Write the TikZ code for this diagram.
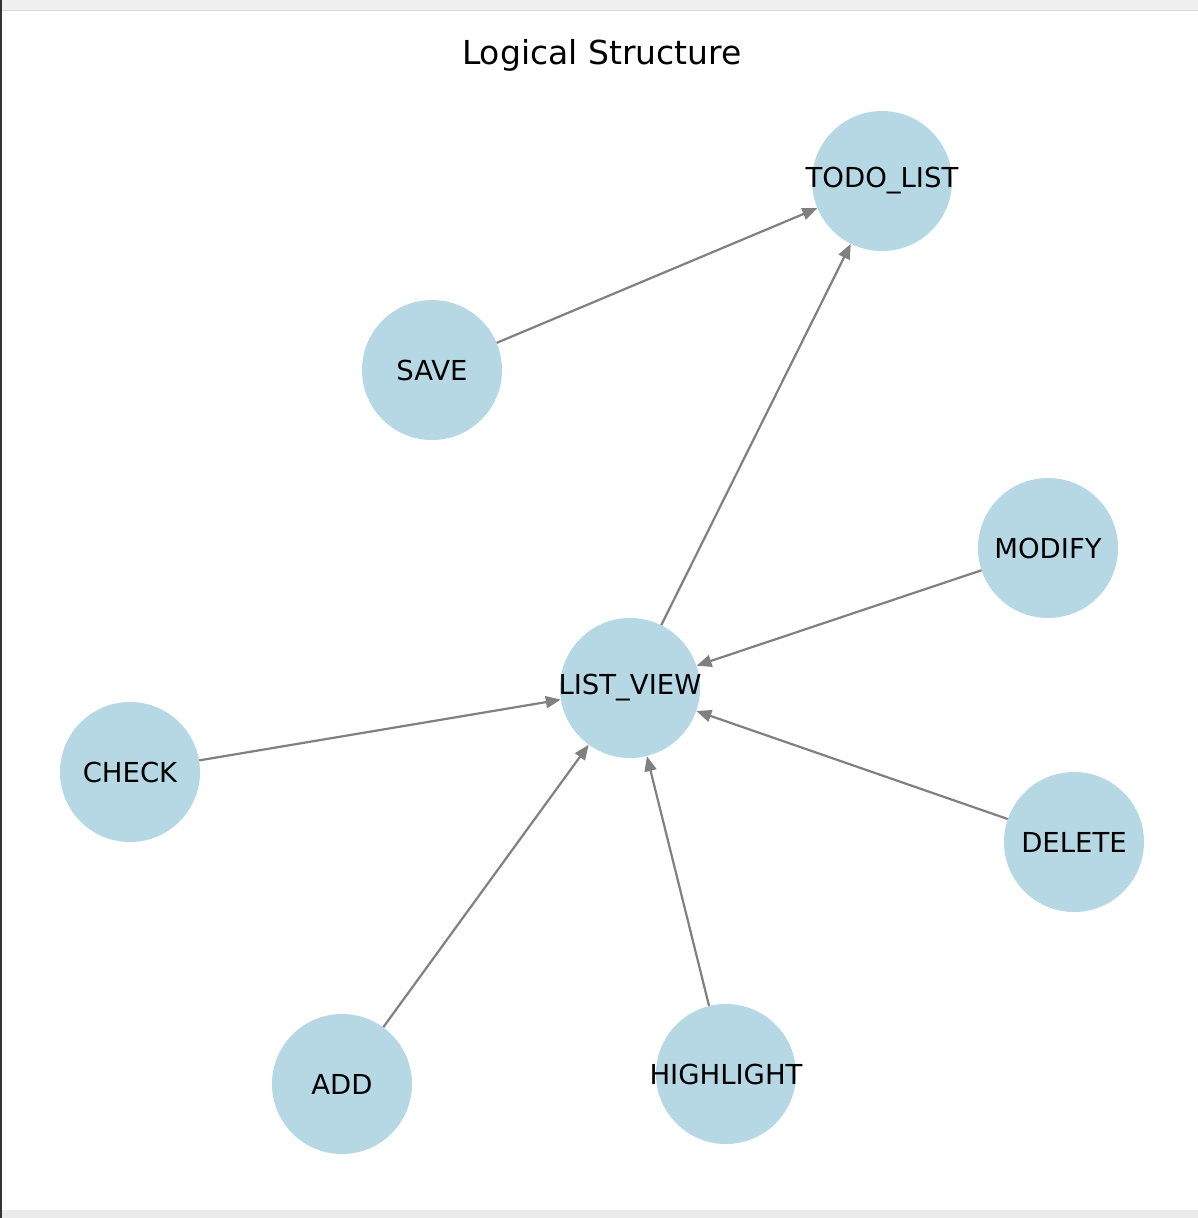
\documentclass[tikz,border=0pt]{standalone}
\usepackage{fontspec}
\setmainfont{DejaVu Sans}
\usetikzlibrary{arrows.meta}
\definecolor{nodeblue}{RGB}{182,216,228}
\definecolor{edgegrey}{RGB}{128,128,128}
\definecolor{stripgrey}{RGB}{240,240,240}
\begin{document}
\begin{tikzpicture}[x=1bp,y=-1bp,
  vertex/.style={circle,fill=nodeblue,minimum size=140bp,inner sep=0pt,font=\fontsize{27.5bp}{30bp}\selectfont,text=black},
  link/.style={draw=edgegrey,line width=2.2bp,-{Triangle[length=15bp,width=12bp]}}]
\useasboundingbox (0,0) rectangle (1198,1218);
\fill[white] (0,0) rectangle (1198,1218);
\fill[stripgrey] (0,0) rectangle (1198,10);
\draw[line width=1.5bp,black!15] (0,10.5) -- (1198,10.5);
\fill[black!8] (0,1210) rectangle (1198,1218);
\fill[black!80] (0,0) rectangle (2,1218);
\node[font=\fontsize{33bp}{36bp}\selectfont] (title) at (602,55) {Logical Structure};
\node[vertex] (todo) at (882,181) {\makebox[0pt]{TODO\_LIST}};
\node[vertex] (save) at (432,370) {\makebox[0pt]{SAVE}};
\node[vertex] (modify) at (1048,548) {\makebox[0pt]{MODIFY}};
\node[vertex] (view) at (630,688) {\makebox[0pt]{LIST\_VIEW}};
\node[vertex] (check) at (130,772) {\makebox[0pt]{CHECK}};
\node[vertex] (delete) at (1074,842) {\makebox[0pt]{DELETE}};
\node[vertex] (add) at (342,1084) {\makebox[0pt]{ADD}};
\node[vertex] (high) at (726,1074) {\makebox[0pt]{HIGHLIGHT}};
\draw[link] (save) -- (todo);
\draw[link] (view) -- (todo);
\draw[link] (modify) -- (view);
\draw[link] (check) -- (view);
\draw[link] (delete) -- (view);
\draw[link] (add) -- (view);
\draw[link] (high) -- (view);
\end{tikzpicture}
\end{document}
